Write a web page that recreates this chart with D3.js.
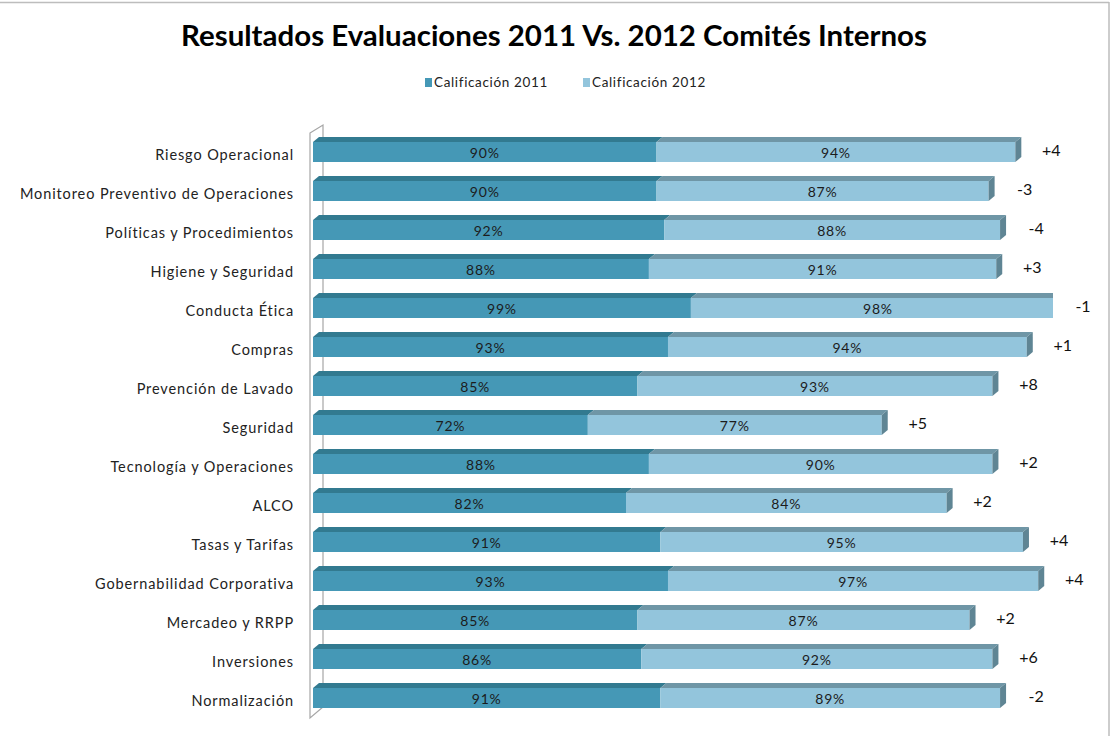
<!DOCTYPE html>
<html>
<head>
<meta charset="utf-8">
<script src="https://cdn.jsdelivr.net/npm/d3@7"></script>
<style>
  html, body { margin: 0; padding: 0; background: #fff; }
  svg { display: block; }
  text { font-family: Lato, "Open Sans", "DejaVu Sans", sans-serif; }
</style>
</head>
<body>
<svg id="chart" width="1113" height="736"></svg>
<script>
const title = "Resultados Evaluaciones 2011 Vs. 2012 Comités Internos";
const seriesNames = ["Calificación 2011", "Calificación 2012"];
const categories = [
  "Riesgo Operacional",
  "Monitoreo Preventivo de Operaciones",
  "Políticas y Procedimientos",
  "Higiene y Seguridad",
  "Conducta Ética",
  "Compras",
  "Prevención de Lavado",
  "Seguridad",
  "Tecnología y Operaciones",
  "ALCO",
  "Tasas y Tarifas",
  "Gobernabilidad Corporativa",
  "Mercadeo y RRPP",
  "Inversiones",
  "Normalización"
];
const cal2011 = [90, 90, 92, 88, 99, 93, 85, 72, 88, 82, 91, 93, 85, 86, 91];
const cal2012 = [94, 87, 88, 91, 98, 94, 93, 77, 90, 84, 95, 97, 87, 92, 89];
const diffLabels = ["+4", "-3", "-4", "+3", "-1", "+1", "+8", "+5", "+2", "+2", "+4", "+4", "+2", "+6", "-2"];

const colors = {
  front: ["#4598b6", "#93c5dc"],
  top: ["#327a90", "#6f96a6"],
  side: "#5f8594"
};

const svg = d3.select("#chart");
const W = 1113, H = 736;

// outer border (partial, as in reference)
svg.append("line").attr("x1", 0).attr("x2", 1109).attr("y1", 2.5).attr("y2", 2.5)
  .attr("stroke", "#bdbdbd").attr("stroke-width", 1.5);
svg.append("line").attr("x1", 1109).attr("x2", 1109).attr("y1", 2).attr("y2", H)
  .attr("stroke", "#bdbdbd").attr("stroke-width", 1.5);

// title
svg.append("text")
  .attr("x", 554).attr("y", 46)
  .attr("text-anchor", "middle")
  .attr("font-size", 28).attr("font-weight", "bold").attr("fill", "#000")
  .attr("textLength", 746).attr("lengthAdjust", "spacingAndGlyphs")
  .text(title);

// legend
const legendX = [425, 583];
seriesNames.forEach((s, i) => {
  const g = svg.append("g").attr("transform", `translate(${legendX[i]},78)`);
  g.append("rect").attr("width", 7).attr("height", 9).attr("fill", colors.front[i]);
  g.append("text").attr("x", 9).attr("y", 9).attr("font-size", 13.5).attr("fill", "#222")
    .attr("letter-spacing", 0.65)
    .text(s);
});

// scales
const plotLeft = 313, plotRight = 1053;
const pxPerUnit = 3.817;
const xMax = 200;
const x = d3.scaleLinear().domain([0, xMax]).range([plotLeft, plotLeft + pxPerUnit * xMax]);
const y = d3.scaleBand().domain(categories).range([132.5, 132.5 + 39 * categories.length]);
const barH = 20, dx = 6, dy = 5;

// wall (3D vertical axis)
const wallTop = 125, wallBot = 707;
svg.append("path")
  .attr("d", `M310,${wallTop + 8}L323,${wallTop}L323,${wallBot}L310,${wallBot + 11}Z`)
  .attr("fill", "#fff").attr("stroke", "#a6a6a6").attr("stroke-width", 1.2);

// clip
svg.append("clipPath").attr("id", "plotclip")
  .append("rect").attr("x", 300).attr("y", 100).attr("width", plotRight - 300).attr("height", 640);

const bars = svg.append("g").attr("clip-path", "url(#plotclip)");

categories.forEach((c, i) => {
  const cy = y(c) + y.bandwidth() / 2;
  const yt = cy - barH / 2;
  const segs = [[0, cal2011[i]], [cal2011[i], cal2011[i] + cal2012[i]]];
  const g = bars.append("g");
  segs.forEach((sg, k) => {
    const x0 = x(sg[0]), x1 = x(sg[1]);
    g.append("path")
      .attr("d", `M${x0},${yt}L${x1},${yt}L${x1 + dx},${yt - dy}L${x0 + dx},${yt - dy}Z`)
      .attr("fill", colors.top[k]);
    g.append("rect").attr("x", x0).attr("y", yt).attr("width", x1 - x0).attr("height", barH)
      .attr("fill", colors.front[k]);
    if (k === 1) {
      g.append("path")
        .attr("d", `M${x1},${yt}L${x1 + dx},${yt - dy}L${x1 + dx},${yt + barH - dy}L${x1},${yt + barH}Z`)
        .attr("fill", colors.side);
    }
  });
});

// value labels
categories.forEach((c, i) => {
  const cy = y(c) + y.bandwidth() / 2;
  const vals = [cal2011[i], cal2012[i]];
  const starts = [0, cal2011[i]];
  vals.forEach((v, k) => {
    svg.append("text")
      .attr("x", (x(starts[k]) + x(starts[k] + v)) / 2)
      .attr("y", cy + 1).attr("dy", "0.35em")
      .attr("text-anchor", "middle").attr("font-size", 14).attr("fill", "#1c1c1c")
      .attr("letter-spacing", 0.8)
      .text(v + "%");
  });
});

// category labels
categories.forEach((c) => {
  const cy = y(c) + y.bandwidth() / 2;
  svg.append("text")
    .attr("x", 294).attr("y", cy + 3).attr("dy", "0.35em")
    .attr("text-anchor", "end").attr("font-size", 14.5).attr("fill", "#222")
    .attr("letter-spacing", 0.9)
    .text(c);
});

// difference labels
categories.forEach((c, i) => {
  const cy = y(c) + y.bandwidth() / 2;
  const endX = Math.min(x(cal2011[i] + cal2012[i]) + dx, plotRight);
  svg.append("text")
    .attr("x", endX + 30).attr("y", cy - 2).attr("dy", "0.35em")
    .attr("text-anchor", "middle").attr("font-size", 16).attr("fill", "#111")
    .text(diffLabels[i]);
});
</script>
</body>
</html>
